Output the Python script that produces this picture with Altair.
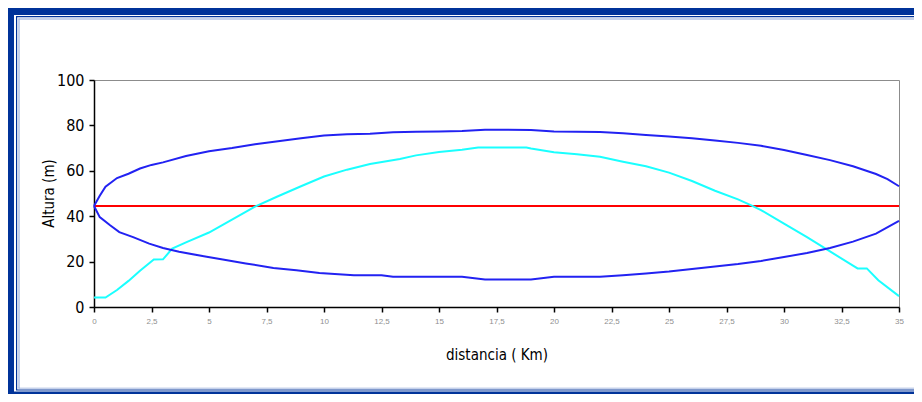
import altair as alt
import pandas as pd

# ---- data ----
x_ticks = [0, 2.5, 5, 7.5, 10, 12.5, 15, 17.5, 20, 22.5, 25, 27.5, 30, 32.5, 35]
y_ticks = [0, 20, 40, 60, 80, 100]

upper_x = [0, 0.25, 0.5, 1, 1.5, 2, 2.5, 3, 4, 5, 6, 7, 8, 9, 10, 11, 12, 13, 14, 15,
           16, 17, 18, 19, 20, 21, 22, 23, 24, 25, 26, 27, 28, 29, 30, 31, 32, 33, 34, 34.5, 35]
upper_y = [44.5, 49, 53, 56.8, 58.7, 61, 62.6, 63.7, 66.5, 68.6, 70, 71.7, 73, 74.3, 75.5,
           76.1, 76.3, 77, 77.2, 77.3, 77.5, 78.1, 78.1, 78, 77.3, 77.2, 77.1, 76.5, 75.8,
           75.1, 74.3, 73.3, 72.3, 71, 69.2, 67, 64.7, 62, 58.6, 56.3, 53.2]

lower_x = [0, 0.25, 0.7, 1.1, 1.7, 2.4, 3, 3.7, 4.9, 5.6, 6.6, 7.8, 8.8, 9.8, 11.3, 12.5,
           13, 16, 17, 19, 20, 22, 23, 24, 25, 26, 27, 28, 29, 30, 31, 32, 33, 34, 35]
lower_y = [44.5, 39.6, 36, 33, 30.8, 27.9, 26, 24.3, 22.1, 20.9, 19.2, 17.2, 16.2, 15, 14,
           14, 13.3, 13.3, 12.1, 12.1, 13.3, 13.3, 14, 14.8, 15.6, 16.7, 17.8, 18.9, 20.3,
           22, 23.8, 26, 28.8, 32.3, 37.9]

terrain_x = [0, 0.5, 1, 1.5, 2, 2.6, 3.0, 3.4, 4, 5, 6, 7, 8, 9, 10, 11, 12, 13.3, 14, 15,
             16, 16.7, 18.8, 19, 20, 21, 22, 23, 24, 25, 26, 27, 28, 28.6, 29, 30, 31, 32,
             33, 33.2, 33.6, 34.1, 35]
terrain_y = [4.2, 4.2, 7.5, 11.5, 16, 20.9, 21, 25.7, 28.5, 32.8, 38.5, 44.2, 48.8, 53.2,
             57.5, 60.5, 63, 65.2, 66.8, 68.3, 69.3, 70.3, 70.3, 69.8, 68.2, 67.3, 66.2, 64,
             62, 59.2, 55.5, 51.2, 47.4, 44.7, 42.7, 36.7, 30.8, 24.5, 18.2, 17, 17, 11.8, 4.8]

los_x = [0, 35]
los_y = [44.5, 44.5]

FRAME_DARK = "#003399"
FRAME_LIGHT = "#8ea6d8"

x_scale = alt.Scale(domain=[0, 35], nice=False, zero=False)
y_scale = alt.Scale(domain=[0, 100], nice=False)


def line(xs, ys, color, width=2):
    df = pd.DataFrame({"x": xs, "y": ys})
    return alt.Chart(df).mark_line(color=color, strokeWidth=width, clip=False).encode(
        x=alt.X("x:Q", scale=x_scale,
                axis=alt.Axis(values=x_ticks, title="distancia ( Km)",
                              labelExpr="replace(toString(datum.value), '.', ',')")),
        y=alt.Y("y:Q", scale=y_scale,
                axis=alt.Axis(values=y_ticks, title="Altura (m)")),
    )


one = pd.DataFrame({"k": [0]})


def band(x, x2, y, y2, color):
    return alt.Chart(one).mark_rect(color=color, clip=False).encode(
        x=alt.value(x), x2=alt.value(x2), y=alt.value(y), y2=alt.value(y2)
    )


frame = [
    band(-86, 820, -72, -65, FRAME_DARK),
    band(-86, -80, -72, 314, FRAME_DARK),
    band(-78, 820, -64, -62.8, FRAME_DARK),
    band(-78, -76.8, -64, 310, FRAME_DARK),
    band(-75.5, 820, -61.5, -60.5, FRAME_LIGHT),
    band(-75.5, -74.5, -61.5, 308.5, FRAME_LIGHT),
    band(-80, 820, 311.5, 314, FRAME_DARK),
    band(-78, 820, 309.5, 310.5, FRAME_DARK),
    band(-75.5, 820, 307.8, 308.5, FRAME_LIGHT),
]

chart = alt.layer(
    line(los_x, los_y, "#ff0000"),
    line(terrain_x, terrain_y, "#1affff"),
    line(upper_x, upper_y, "#2222f2"),
    line(lower_x, lower_y, "#2222f2"),
    *frame,
).properties(
    width=805,
    height=227,
    autosize=alt.AutoSizeParams(type="none"),
    padding={"left": 86, "top": 72, "right": 15, "bottom": 87},
    background="white",
).configure_view(
    stroke="#8c8c8c", strokeWidth=1
).configure_axis(
    grid=False,
    domainColor="black",
    domainWidth=1.5,
    tickColor="black",
    tickWidth=1.5,
    tickSize=5,
    zindex=1,
).configure_axisY(
    labelFont="Liberation Sans Narrow, DejaVu Sans Condensed, Liberation Sans",
    labelFontSize=16,
    labelColor="black",
    labelPadding=5,
    titleFont="Liberation Sans Narrow, DejaVu Sans Condensed, Liberation Sans",
    titleFontSize=15,
    titleFontWeight="normal",
    titleColor="black",
    titleX=-46,
    titleY=113,
    titleAngle=270,
    titleAlign="center",
    titleBaseline="middle",
).configure_axisX(
    labelFont="Liberation Sans, Arial",
    labelFontSize=8,
    labelColor="#8f8f8f",
    labelPadding=5,
    labelFlush=False,
    titleFont="Liberation Sans Narrow, DejaVu Sans Condensed, Liberation Sans",
    titleFontSize=15,
    titleFontWeight="normal",
    titleColor="black",
    titleX=402.5,
    titleY=47,
    titleAlign="center",
    titleBaseline="middle",
)

chart.save("out.html", embed_options={"renderer": "svg", "actions": False})
